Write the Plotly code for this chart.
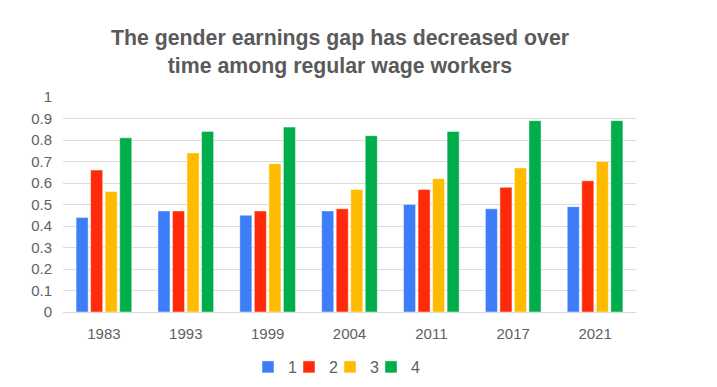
import plotly.graph_objects as go

years = ["1983", "1993", "1999", "2004", "2011", "2017", "2021"]
series_names = ["1", "2", "3", "4"]
s1 = [0.44, 0.47, 0.45, 0.47, 0.50, 0.48, 0.49]
s2 = [0.66, 0.47, 0.47, 0.48, 0.57, 0.58, 0.61]
s3 = [0.56, 0.74, 0.69, 0.57, 0.62, 0.67, 0.70]
s4 = [0.81, 0.84, 0.86, 0.82, 0.84, 0.89, 0.89]
y_ticks = [0, 0.1, 0.2, 0.3, 0.4, 0.5, 0.6, 0.7, 0.8, 0.9, 1]
y_tick_labels = ["0", "0.1", "0.2", "0.3", "0.4", "0.5", "0.6", "0.7", "0.8", "0.9", "1"]

colors = ["#3d7ef8", "#ff2a0a", "#ffbb00", "#00ad4b"]

W, H = 709, 379  # page body has an 8px margin

legend_ids = ["legend", "legend2", "legend3", "legend4"]

fig = go.Figure()
for name, vals, c, lg in zip(series_names, [s1, s2, s3, s4], colors, legend_ids):
    fig.add_trace(go.Bar(
        x=years, y=vals, name=name, legend=lg,
        marker=dict(color=c, line=dict(color="rgba(255,255,255,0.45)", width=1)),
    ))

# separate one-entry legends so the entries can sit close together
leg_step = 41
leg_x0 = 240
legend_layout = {}
for i, lg in enumerate(legend_ids):
    legend_layout[lg] = dict(
        orientation="h", x=(leg_x0 + i * leg_step) / W, xref="container", xanchor="left",
        y=1 - 359 / H, yref="container", yanchor="middle",
        font=dict(size=16, color="#5f5f5f"), bgcolor="rgba(0,0,0,0)",
    )

fig.update_layout(
    width=W, height=H,
    margin=dict(l=55, r=81, t=89, b=75, autoexpand=False),
    paper_bgcolor="white", plot_bgcolor="white",
    font=dict(family="Liberation Sans, Arial, sans-serif", color="#5f5f5f", size=15),
    title=dict(
        text="<b>The gender earnings gap has decreased over<br>time among regular wage workers</b>",
        x=332/W, xref="container", xanchor="center",
        y=1 - 37/H, yref="container", yanchor="top",
        font=dict(size=21.3, color="#5a5a5a"),
    ),
    barmode="group", bargap=0.29, bargroupgap=0.17,
    showlegend=True,
    **legend_layout,
)
fig.update_xaxes(showgrid=False, showline=True, linecolor="#d9d9d9", linewidth=1,
                 ticks="", tickfont=dict(size=15, color="#5f5f5f"),
                 ticklabelstandoff=8)
fig.update_yaxes(range=[0, 1.0], tickvals=y_ticks, ticktext=y_tick_labels,
                 showgrid=True, gridcolor="#dcdcdc", gridwidth=1,
                 zeroline=True, zerolinecolor="#d0d0d0", zerolinewidth=1,
                 ticks="", tickfont=dict(size=15, color="#5f5f5f"),
                 ticklabelstandoff=10)

fig.write_html("out.html")
